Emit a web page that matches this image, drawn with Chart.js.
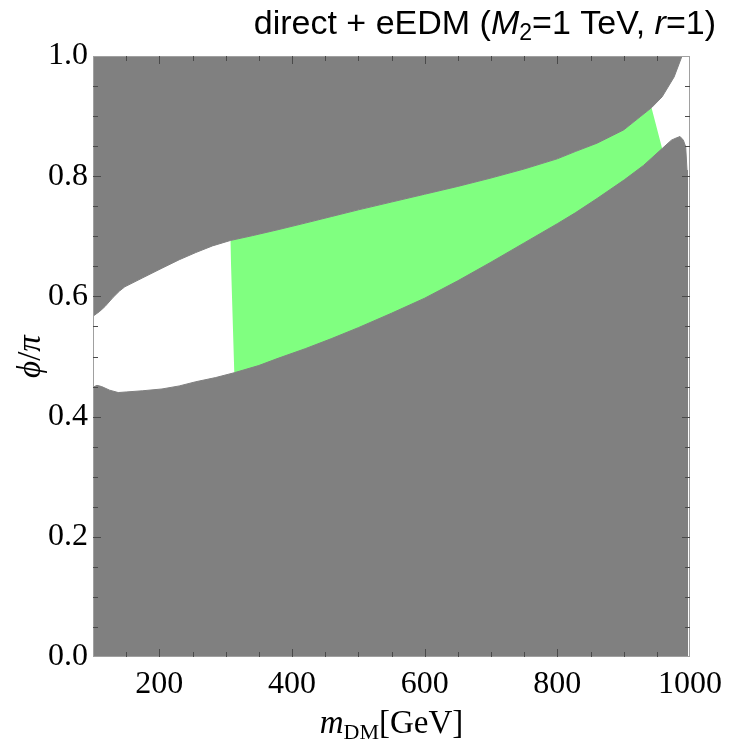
<!DOCTYPE html>
<html>
<head>
<meta charset="utf-8">
<script src="https://cdn.jsdelivr.net/npm/chart.js@4.4.0/dist/chart.umd.min.js"></script>
<style>
  html, body { margin: 0; padding: 0; background: #fff; }
  #wrap { width: 730px; height: 745px; position: relative; }
</style>
</head>
<body>
<div id="wrap"><canvas id="chart"></canvas></div>
<script>
// lower edge of the region excluded from above (m_DM in GeV, phi/pi)
const upperM   = [100, 110, 118, 130, 140, 148, 175, 204, 230, 255, 280, 307, 340, 379, 420, 460, 500, 550, 600, 650, 700, 750, 800, 827, 860, 900, 925, 942, 958, 976, 988];
const upperPhi = [0.567, 0.575, 0.583, 0.598, 0.609, 0.616, 0.631, 0.647, 0.661, 0.673, 0.684, 0.693, 0.701, 0.711, 0.722, 0.733, 0.744, 0.757, 0.770, 0.783, 0.797, 0.812, 0.829, 0.841, 0.855, 0.877, 0.899, 0.914, 0.932, 0.965, 1.0];

// upper edge of the region excluded from below
const lowerM   = [100, 106, 113, 125, 138, 150, 175, 204, 230, 255, 285, 313, 350, 379, 420, 460, 500, 550, 600, 650, 700, 750, 800, 827, 860, 901, 930, 958, 972, 980, 985, 990, 993.5, 995.5, 996, 996];
const lowerPhi = [0.449, 0.452, 0.450, 0.444, 0.440, 0.441, 0.443, 0.446, 0.451, 0.458, 0.465, 0.473, 0.485, 0.497, 0.513, 0.530, 0.548, 0.572, 0.597, 0.626, 0.657, 0.689, 0.721, 0.739, 0.763, 0.794, 0.818, 0.846, 0.860, 0.864, 0.866, 0.860, 0.849, 0.810, 0.750, 0.0];

// green band (direct + eEDM allowed): left and right cut edges
const greenLeftM    = [307, 313, 307];
const greenLeftPhi  = [0.40, 0.473, 0.693];
const greenRightM   = [942, 958];
const greenRightPhi = [0.914, 0.846];

const xMin = 100, xMax = 1000, xStep = 50, xMajor = 200;
const yMin = 0, yMax = 1, yStep = 0.05, yMajor = 0.2;

const grey = '#808080';
const green = '#80ff80';

const toPts = (ms, ps) => ms.map((m, i) => ({ x: m, y: ps[i] }));

const upperPts = toPts(upperM, upperPhi);
const lowerPts = toPts(lowerM, lowerPhi);
const greenPts = toPts(greenLeftM, greenLeftPhi)
  .concat(upperPts.filter(p => p.x > 307 && p.x < 942))
  .concat(toPts(greenRightM, greenRightPhi));

function drawRuns(ctx, runs, x, y, align) {
  let w = 0;
  runs.forEach(r => { ctx.font = r.font; w += ctx.measureText(r.t).width; });
  let cx = align === 'right' ? x - w : align === 'center' ? x - w / 2 : x;
  runs.forEach(r => {
    ctx.font = r.font;
    ctx.fillText(r.t, cx, y + (r.dy || 0));
    cx += ctx.measureText(r.t).width;
  });
}

const framePlugin = {
  id: 'frame',
  afterDraw(chart) {
    const { ctx, chartArea: a, scales: { x, y } } = chart;
    ctx.save();
    ctx.strokeStyle = '#a0a0a0';
    ctx.lineWidth = 1;
    ctx.strokeRect(a.left + 0.5, a.top + 0.5, a.right - a.left - 1, a.bottom - a.top - 1);

    ctx.strokeStyle = '#4a4a4a';
    ctx.beginPath();
    x.ticks.forEach(t => {
      if (t.value <= xMin || t.value >= xMax) return;
      const px = Math.round(x.getPixelForValue(t.value)) + 0.5;
      const len = t.value % xMajor === 0 ? 8 : 5;
      ctx.moveTo(px, a.bottom); ctx.lineTo(px, a.bottom - len);
      ctx.moveTo(px, a.top); ctx.lineTo(px, a.top + len);
    });
    y.ticks.forEach(t => {
      if (t.value <= yMin + 1e-9 || t.value >= yMax - 1e-9) return;
      const py = Math.round(y.getPixelForValue(t.value)) + 0.5;
      const major = Math.abs(t.value / yMajor - Math.round(t.value / yMajor)) < 1e-6;
      const len = major ? 8 : 5;
      ctx.moveTo(a.left, py); ctx.lineTo(a.left + len, py);
      ctx.moveTo(a.right, py); ctx.lineTo(a.right - len, py);
    });
    ctx.stroke();

    ctx.fillStyle = '#000';
    ctx.textBaseline = 'alphabetic';
    const sans = 'Liberation Sans, Arial, sans-serif';
    drawRuns(ctx, [
      { t: 'direct + eEDM (', font: '34px ' + sans },
      { t: 'M', font: 'italic 34px ' + sans },
      { t: '2', font: '23px ' + sans, dy: 6 },
      { t: '=1 TeV, ', font: '34px ' + sans },
      { t: 'r', font: 'italic 34px ' + sans },
      { t: '=1)', font: '34px ' + sans }
    ], 716, 34, 'right');

    const serif = 'Liberation Serif, Times New Roman, serif';
    drawRuns(ctx, [
      { t: 'm', font: 'italic 33px ' + serif },
      { t: 'DM', font: '22px ' + serif, dy: 6 },
      { t: '[GeV]', font: '33px ' + serif }
    ], (a.left + a.right) / 2, 733, 'center');

    ctx.translate(30, (a.top + a.bottom) / 2);
    ctx.rotate(-Math.PI / 2);
    drawRuns(ctx, [
      { t: '\u03D5', font: 'italic 33px ' + serif },
      { t: '/', font: '33px ' + serif },
      { t: '\u03C0', font: 'italic 33px ' + serif }
    ], 0, 10, 'center');
    ctx.restore();
  }
};

const tickFont = { family: 'Liberation Serif, Times New Roman, serif', size: 32 };

new Chart(document.getElementById('chart'), {
  type: 'line',
  data: {
    datasets: [
      { label: 'excluded (upper)', data: upperPts, fill: 'end', backgroundColor: grey, borderColor: grey, borderWidth: 1, pointRadius: 0, tension: 0 },
      { label: 'excluded (lower)', data: lowerPts, fill: 'start', backgroundColor: grey, borderColor: grey, borderWidth: 1, pointRadius: 0, tension: 0 },
      { label: 'direct + eEDM', data: greenPts, fill: 'start', backgroundColor: green, borderColor: 'rgba(0,0,0,0)', borderWidth: 0, pointRadius: 0, tension: 0 }
    ]
  },
  options: {
    responsive: true,
    maintainAspectRatio: false,
    animation: false,
    devicePixelRatio: 1,
    layout: { padding: { left: 0, right: 34, top: 56, bottom: 0 } },
    plugins: { legend: { display: false }, tooltip: { enabled: false }, title: { display: false } },
    scales: {
      x: {
        type: 'linear', min: xMin, max: xMax,
        grid: { display: false, drawTicks: false }, border: { display: false },
        afterFit: s => { s.height = 88; },
        ticks: {
          stepSize: xStep, autoSkip: false, maxRotation: 0, padding: 8,
          color: '#000', font: tickFont,
          callback: v => (v % xMajor === 0 ? String(v) : '')
        }
      },
      y: {
        type: 'linear', min: yMin, max: yMax,
        grid: { display: false, drawTicks: false }, border: { display: false },
        afterFit: s => { s.width = 93; },
        ticks: {
          stepSize: yStep, autoSkip: false, padding: 5,
          color: '#000', font: tickFont,
          callback: v => (Math.abs(v / yMajor - Math.round(v / yMajor)) < 1e-6 ? v.toFixed(1) : '')
        }
      }
    }
  },
  plugins: [framePlugin]
});
</script>
</body>
</html>
